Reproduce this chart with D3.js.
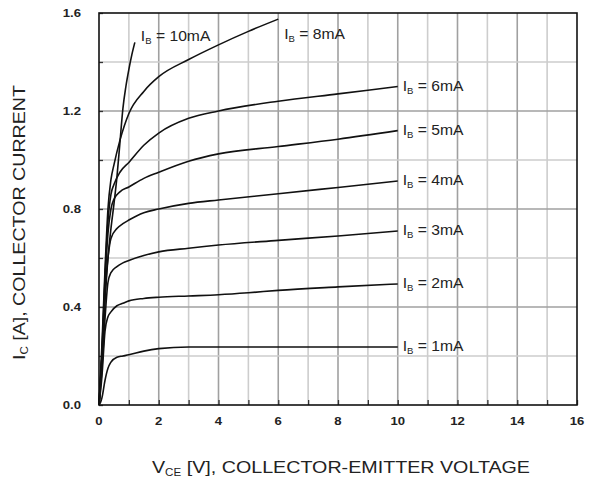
<!DOCTYPE html>
<html>
<head>
<meta charset="utf-8">
<script src="https://cdn.jsdelivr.net/npm/d3@7"></script>
<style>
html,body{margin:0;padding:0;background:#fff;}
svg{display:block;}
text{font-family:"Liberation Sans",Arial,sans-serif;fill:#222;}
</style>
</head>
<body>
<svg id="chart" width="589" height="486"></svg>
<script>
// ---- data ----
const xTicks = [0,2,4,6,8,10,12,14,16];
const yTicks = [0.0,0.4,0.8,1.2,1.6];
const yTickLabels = ["0.0","0.4","0.8","1.2","1.6"];

const ib1V = [0,0.05,0.1,0.2,0.3,0.4,0.6,0.8,1,1.5,2,3,4,6,8,10];
const ib1I = [0,0.01,0.03,0.1,0.15,0.175,0.195,0.2,0.205,0.22,0.23,0.237,0.237,0.237,0.237,0.237];
const ib2V = [0,0.1,0.2,0.3,0.4,0.6,0.8,1,1.5,2,3,4,5,6,8,10];
const ib2I = [0,0.12,0.3,0.36,0.38,0.405,0.415,0.425,0.435,0.44,0.445,0.45,0.458,0.468,0.482,0.494];
const ib3V = [0,0.1,0.2,0.3,0.4,0.6,0.8,1,1.5,2,3,4,6,8,10];
const ib3I = [0,0.15,0.35,0.5,0.54,0.565,0.58,0.59,0.61,0.625,0.64,0.653,0.672,0.69,0.71];
const ib4V = [0,0.1,0.2,0.3,0.4,0.6,0.8,1,1.5,2,3,4,6,8,10];
const ib4I = [0,0.2,0.45,0.6,0.68,0.72,0.74,0.755,0.785,0.8,0.823,0.837,0.862,0.888,0.914];
const ib5V = [0,0.1,0.2,0.3,0.4,0.5,0.7,1,1.5,2,3,4,6,8,10];
const ib5I = [0,0.2,0.5,0.7,0.8,0.84,0.87,0.89,0.925,0.95,0.995,1.025,1.055,1.085,1.12];
const ib6V = [0,0.1,0.2,0.3,0.4,0.5,0.7,1,1.5,2,3,4,6,8,10];
const ib6I = [0,0.22,0.52,0.75,0.86,0.9,0.95,0.99,1.06,1.11,1.17,1.2,1.24,1.27,1.3];
const ib8V = [0,0.1,0.2,0.3,0.4,0.5,0.7,1,1.5,2,3,4,5,6];
const ib8I = [0,0.25,0.55,0.8,0.92,0.98,1.08,1.19,1.28,1.34,1.41,1.47,1.525,1.575];
const ib10V = [0,0.1,0.2,0.3,0.4,0.5,0.6,0.7,0.8,0.9,1.0,1.1,1.2];
const ib10I = [0,0.2,0.42,0.6,0.72,0.82,0.93,1.07,1.21,1.3,1.37,1.43,1.48];

const curveNames = ["10mA","8mA","6mA","5mA","4mA","3mA","2mA","1mA"];
const curveV = [ib10V,ib8V,ib6V,ib5V,ib4V,ib3V,ib2V,ib1V];
const curveI = [ib10I,ib8I,ib6I,ib5I,ib4I,ib3I,ib2I,ib1I];

// ---- layout ----
const svg = d3.select("#chart");
const L = 99, R = 577, T = 13, B = 405;
const x = d3.scaleLinear().domain([0,16]).range([L,R]);
const y = d3.scaleLinear().domain([0,1.6]).range([B,T]);

function stretched(sel, px, py, s){
  return sel.attr("transform",`translate(${px},${py}) scale(${s},1)`);
}

// grid
const g = svg.append("g");
d3.range(1,16).forEach(v=>{
  g.append("line").attr("x1",x(v)).attr("x2",x(v)).attr("y1",T).attr("y2",B)
    .attr("stroke", v%2===0 ? "#a0a0a0" : "#cdcdcd").attr("stroke-width",1.6);
});
d3.range(1,8).forEach(k=>{
  const v = k*0.2;
  g.append("line").attr("x1",L).attr("x2",R).attr("y1",y(v)).attr("y2",y(v))
    .attr("stroke", k%2===0 ? "#a0a0a0" : "#cdcdcd").attr("stroke-width",1.6);
});

// axes via d3
const xAxis = d3.axisBottom(x).tickValues(d3.range(0,17)).tickSize(-5).tickFormat("");
svg.append("g").attr("transform",`translate(0,${B})`).call(xAxis)
  .call(s=>{s.select(".domain").remove(); s.selectAll("line").attr("stroke","#333").attr("stroke-width",1.3);});
const yAxis = d3.axisLeft(y).tickValues(d3.range(0,9).map(k=>k*0.2)).tickSize(-4).tickFormat("");
svg.append("g").attr("transform",`translate(${L},0)`).call(yAxis)
  .call(s=>{s.select(".domain").remove(); s.selectAll("line").attr("stroke","#333").attr("stroke-width",1.3);});

// tick labels
xTicks.forEach(d=>{
  stretched(svg.append("text"), x(d), B+20, 1.25).attr("text-anchor","middle")
    .attr("font-size",10.5).attr("font-weight","bold").text(d);
});
yTicks.forEach((d,i)=>{
  stretched(svg.append("text"), L-18, y(d)+4, 1.25).attr("text-anchor","end")
    .attr("font-size",10.5).attr("font-weight","bold").text(yTickLabels[i]);
});

// curves
const line = d3.line().x(d=>x(d[0])).y(d=>y(d[1])).curve(d3.curveMonotoneX);
curveNames.forEach((n,i)=>{
  const pts = curveV[i].map((v,j)=>[v,curveI[i][j]]);
  svg.append("path").attr("d",line(pts)).attr("fill","none")
    .attr("stroke","#111").attr("stroke-width",1.6);
  const last = pts[pts.length-1];
  let dx = 5, dy = 4;
  if (n==="10mA") { dx = 6; dy = -1; }
  if (n==="8mA") { dx = 6; dy = 20; }
  const t = stretched(svg.append("text"), x(last[0])+dx, y(last[1])+dy, 1.12)
    .attr("font-size",14);
  t.append("tspan").text("I");
  t.append("tspan").attr("font-size",8.5).attr("dy",3).text("B");
  t.append("tspan").attr("dy",-3).text(" = " + n);
});

// border
svg.append("rect").attr("x",L).attr("y",T).attr("width",R-L).attr("height",B-T)
  .attr("fill","none").attr("stroke","#111").attr("stroke-width",1.6);

// axis titles
const xt = svg.append("text").attr("x",152).attr("y",473).attr("font-size",17)
  .attr("textLength",378).attr("lengthAdjust","spacingAndGlyphs");
xt.append("tspan").text("V");
xt.append("tspan").attr("font-size",10).attr("dy",3).text("CE");
xt.append("tspan").attr("dy",-3).text(" [V], COLLECTOR-EMITTER VOLTAGE");

const yt = svg.append("text").attr("transform","translate(25,360) rotate(-90)").attr("font-size",17)
  .attr("textLength",275).attr("lengthAdjust","spacingAndGlyphs");
yt.append("tspan").text("I");
yt.append("tspan").attr("font-size",10).attr("dy",3).text("C");
yt.append("tspan").attr("dy",-3).text(" [A], COLLECTOR CURRENT");
</script>
</body>
</html>
